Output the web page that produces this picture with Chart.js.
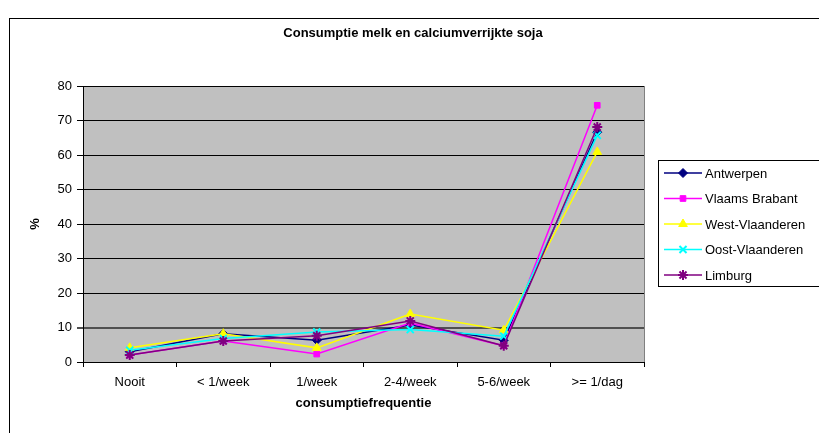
<!DOCTYPE html>
<html>
<head>
<meta charset="utf-8">
<script src="https://cdn.jsdelivr.net/npm/chart.js@4/dist/chart.umd.min.js"></script>
<style>
  html, body { margin: 0; padding: 0; background: #fff; }
  #wrap { width: 819px; height: 433px; position: relative; }
</style>
</head>
<body>
<div id="wrap"><canvas id="c"></canvas></div>
<script>
'use strict';

// ── data ────────────────────────────────────────────────────────────────
const categories = ['Nooit', '< 1/week', '1/week', '2-4/week', '5-6/week', '>= 1/dag'];
const antwerpen = [3.0, 8.2, 6.3, 10.7, 6.3, 66.6];
const vlaamsBrabant = [2.0, 6.1, 2.3, 11.3, 4.7, 74.4];
const westVlaanderen = [4.1, 8.2, 4.1, 13.9, 9.2, 60.9];
const oostVlaanderen = [3.4, 6.8, 8.7, 9.4, 7.5, 65.7];
const limburg = [2.0, 6.1, 7.6, 11.9, 4.7, 68.1];
const yTicks = [0, 10, 20, 30, 40, 50, 60, 70, 80];
const chartTitle = 'Consumptie melk en calciumverrijkte soja';

const FONT = '"Liberation Sans", Arial, sans-serif';

function series(label, data, color, style, radius, order) {
  return {
    label, data,
    borderColor: color,
    backgroundColor: color,
    borderWidth: 1.5,
    pointStyle: style,
    pointRadius: radius,
    pointBorderWidth: style === 'crossRot' || style === 'star' ? 2 : 1,
    tension: 0,
    order,
  };
}

const datasets = [
  series('Antwerpen', antwerpen, '#000080', 'rectRot', 4.5, 5),
  series('Vlaams Brabant', vlaamsBrabant, '#ff00ff', 'rect', 4, 4),
  series('West-Vlaanderen', westVlaanderen, '#ffff00', 'triangle', 5, 3),
  series('Oost-Vlaanderen', oostVlaanderen, '#00ffff', 'crossRot', 5, 2),
  series('Limburg', limburg, '#800080', 'star', 5, 1),
];

// grey plot area, outer frame and title centred on the whole frame
const frame = {
  id: 'frame',
  beforeDraw(chart) {
    const { ctx, chartArea: a } = chart;
    ctx.save();
    ctx.fillStyle = '#c0c0c0';
    ctx.fillRect(a.left, a.top, a.right - a.left, a.bottom - a.top);
    ctx.strokeStyle = '#808080';
    ctx.lineWidth = 1;
    ctx.beginPath();
    ctx.moveTo(a.right + 0.5, a.top);
    ctx.lineTo(a.right + 0.5, a.bottom);
    ctx.stroke();
    ctx.strokeStyle = '#000';
    ctx.strokeRect(9.5, 18.5, 830, 440);
    ctx.fillStyle = '#000';
    ctx.font = 'bold 13px ' + FONT;
    ctx.textAlign = 'center';
    ctx.textBaseline = 'middle';
    ctx.fillText(chartTitle, 413, 33);
    ctx.restore();
  }
};

// Excel-style legend: line with marker through it
const sideLegend = {
  id: 'sideLegend',
  afterDraw(chart) {
    const { ctx } = chart;
    const x0 = 658.5, y0 = 160.5, rowH = 25.5;
    ctx.save();
    ctx.fillStyle = '#fff';
    ctx.fillRect(x0, y0, 180, 126);
    ctx.strokeStyle = '#000';
    ctx.lineWidth = 1;
    ctx.strokeRect(x0, y0, 180, 126);
    ctx.font = '13px ' + FONT;
    ctx.textBaseline = 'middle';
    chart.data.datasets.forEach((ds, i) => {
      const y = 173 + i * rowH;
      ctx.strokeStyle = ds.borderColor;
      ctx.lineWidth = 1.5;
      ctx.beginPath();
      ctx.moveTo(664, y);
      ctx.lineTo(702, y);
      ctx.stroke();
      ctx.fillStyle = ds.backgroundColor;
      ctx.strokeStyle = ds.borderColor;
      ctx.lineWidth = ds.pointBorderWidth;
      Chart.helpers.drawPoint(ctx, { pointStyle: ds.pointStyle, radius: ds.pointRadius, borderWidth: ds.pointBorderWidth, rotation: 0 }, 683, y);
      ctx.fillStyle = '#000';
      ctx.fillText(ds.label, 705, y + 1);
    });
    ctx.restore();
  }
};

new Chart(document.getElementById('c'), {
  type: 'line',
  data: { labels: categories, datasets },
  plugins: [frame, sideLegend],
  options: {
    responsive: true,
    maintainAspectRatio: false,
    animation: false,
    layout: { padding: { left: 28, right: 175, top: 86, bottom: 18 } },
    plugins: {
      legend: { display: false },
      tooltip: { enabled: false },
      title: { display: false }
    },
    scales: {
      x: {
        offset: true,
        afterFit: s => { s.height = 53; },
        grid: { offset: true, drawOnChartArea: false, tickLength: 5, color: '#000' },
        border: { color: '#000', width: 1 },
        ticks: { color: '#000', font: { family: FONT, size: 13 }, padding: 8, maxRotation: 0, autoSkip: false },
        title: {
          display: true, text: 'consumptiefrequentie', color: '#000',
          font: { family: FONT, size: 13, weight: 'bold' }, padding: { top: 4 }
        }
      },
      y: {
        min: 0, max: 80,
        afterFit: s => { s.width = 55; },
        afterBuildTicks: s => { s.ticks = yTicks.map(v => ({ value: v })); },
        grid: {
          color: c => c.tick && c.tick.value === 10 ? '#505050' : '#000',
          lineWidth: c => c.tick && c.tick.value === 10 ? 2 : 1,
          tickLength: 6
        },
        border: { color: '#000', width: 1 },
        ticks: { color: '#000', font: { family: FONT, size: 13 }, padding: 5 },
        title: {
          display: true, text: '%', color: '#000',
          font: { family: FONT, size: 13, weight: 'bold' }, padding: { top: 0, bottom: 6 }
        }
      }
    }
  }
});
</script>
</body>
</html>
